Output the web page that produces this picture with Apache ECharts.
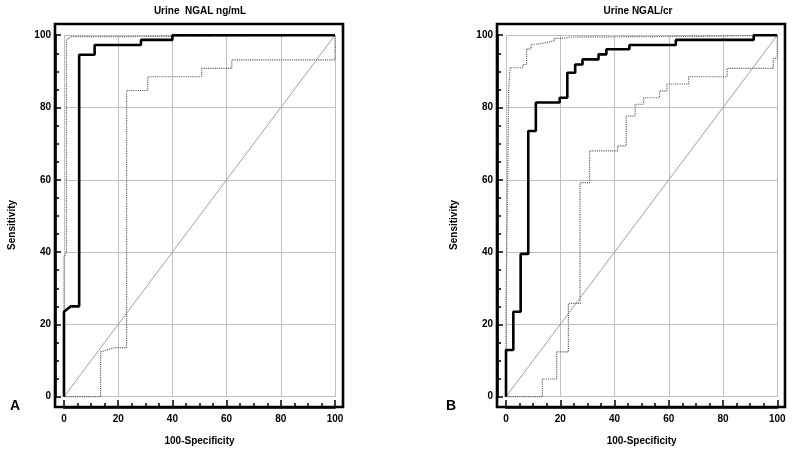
<!DOCTYPE html>
<html>
<head>
<meta charset="utf-8">
<script src="https://cdn.jsdelivr.net/npm/echarts@6/dist/echarts.min.js"></script>
<style>html,body{margin:0;padding:0;background:#fff}#c{width:800px;height:451px}</style>
</head>
<body>
<div id="c"></div>
<script>
// ---- data ----
const xTicks = [0, 20, 40, 60, 80, 100];
const titleA = 'Urine  NGAL ng/mL';
const titleB = 'Urine NGAL/cr';
const diagonal = [[0, 0], [100, 100]];

// Panel A (Urine NGAL ng/mL)
const rocA = [[0,0],[0,23.5],[2.5,25],[5.6,25],[5.6,94.6],[11.3,94.6],[11.3,97.3],[28.4,97.3],[28.4,98.7],[40,98.7],[40,100],[100,100]];
const upperA = [[0,0],[0,38.5],[0.9,40],[0.9,98.7],[2.6,99.6],[20.3,99.6],[20.3,100],[100,100]];
const lowerA = [[0,0],[13.5,0],[13.5,12.4],[18.8,13.6],[23.1,13.6],[23.1,84.7],[30.9,84.7],[30.9,88.5],[50.8,88.5],[50.8,90.8],[61.9,90.8],[61.9,93.2],[100,93.2],[100,100]];

// Panel B (Urine NGAL/cr)
const rocB = [[0,0],[0,12.9],[2.7,12.9],[2.7,23.5],[5.4,23.5],[5.4,39.5],[8.2,39.5],[8.2,73.5],[11,73.5],[11,81.4],[19.8,81.4],[19.8,82.7],[22.6,82.7],[22.6,89.6],[25.5,89.6],[25.5,91.9],[28.2,91.9],[28.2,93.3],[34.1,93.3],[34.1,94.7],[37,94.7],[37,96.1],[45.5,96.1],[45.5,97.3],[62.6,97.3],[62.6,98.7],[91.3,98.7],[91.3,100],[100,100]];
const upperB = [[0,0],[0,25.6],[0.5,25.6],[0.5,54.4],[1,54.4],[1,84.8],[1.5,84.8],[1.5,91],[6.2,91],[6.2,91.9],[7.6,91.9],[7.6,96.2],[9.2,96.2],[9.2,97.5],[11.1,97.5],[11.1,98],[15.4,98],[15.4,98.5],[17.8,98.5],[17.8,99.1],[20.9,99.1],[20.9,99.5],[24,99.5],[24,99.7],[72.5,99.7],[72.5,100],[100,100]];
const lowerB = [[0,0],[13.4,0],[13.4,4.9],[18.7,4.9],[18.7,12.4],[23,12.4],[23,25.8],[27.3,25.8],[27.3,59.2],[30.8,59.2],[30.8,68],[41.1,68],[41.1,69.4],[44.3,69.4],[44.3,77.6],[47.6,77.6],[47.6,80.9],[50.7,80.9],[50.7,82.7],[56.6,82.7],[56.6,84.6],[59.3,84.6],[59.3,86.5],[67.3,86.5],[67.3,88.5],[81.5,88.5],[81.5,90.8],[98.5,90.8],[98.5,93.6],[100,93.6],[100,100]];

// ---- chart ----
const FONT = 'Liberation Sans, Arial, sans-serif';
const chart = echarts.init(document.getElementById('c'), null, {renderer: 'canvas'});

function xAx(gi) {
  return {
    type: 'value', gridIndex: gi, min: 0, max: 100, interval: 20, offset: 10.3,
    position: 'bottom',
    name: '100-Specificity', nameLocation: 'middle', nameGap: 29,
    nameTextStyle: {fontFamily: FONT, fontWeight: 'bold', fontSize: 10, color: '#000'},
    axisLine: {show: true, onZero: false, lineStyle: {color: '#000', width: 2.6}},
    axisTick: {show: true, inside: true, length: 7, lineStyle: {color: '#000', width: 1.5}},
    minorTick: {show: true, splitNumber: 4, length: 4, lineStyle: {color: '#000', width: 1.5}},
    axisLabel: {fontFamily: FONT, fontWeight: 'bold', fontSize: 10, color: '#000', margin: 7},
    splitLine: {show: true, lineStyle: {color: '#c0c0c0', width: 1}}
  };
}
function yAx(gi) {
  return {
    type: 'value', gridIndex: gi, min: 0, max: 100, interval: 20, offset: 9,
    position: 'left',
    name: 'Sensitivity', nameLocation: 'middle', nameGap: 38, nameRotate: 90,
    nameTextStyle: {fontFamily: FONT, fontWeight: 'bold', fontSize: 10, color: '#000', padding: [0, 18, 0, 0]},
    axisLine: {show: true, onZero: false, lineStyle: {color: '#000', width: 2.6}},
    axisTick: {show: true, inside: true, length: 6, lineStyle: {color: '#000', width: 1.5}},
    minorTick: {show: true, splitNumber: 4, length: 4, lineStyle: {color: '#000', width: 1.5}},
    axisLabel: {fontFamily: FONT, fontWeight: 'bold', fontSize: 10, color: '#000', margin: 4},
    splitLine: {show: true, lineStyle: {color: '#c0c0c0', width: 1}}
  };
}
function hidden(gi) {
  return {type: 'value', gridIndex: gi, show: false, min: 0, max: 1};
}
function line(data, xi, style, z) {
  return {type: 'line', xAxisIndex: xi, yAxisIndex: xi, data: data, showSymbol: false, symbol: 'none',
    lineStyle: style, z: z, silent: true, animation: false, clip: false};
}
const mainStyle = {color: '#000', width: 2.6};
const ciStyle = {color: '#666666', width: 1.2, type: [1.2, 1]};
const diagStyle = {color: '#a0a0a0', width: 1};

chart.setOption({
  backgroundColor: '#fff',
  animation: false,
  title: [
    {text: titleA, left: 200, top: 6, textAlign: 'center', padding: 0,
      textStyle: {fontFamily: FONT, fontWeight: 'bold', fontSize: 10, color: '#000'}},
    {text: titleB, left: 638, top: 6, textAlign: 'center', padding: 0,
      textStyle: {fontFamily: FONT, fontWeight: 'bold', fontSize: 10, color: '#000'}},
    {text: 'A', left: 10, top: 399, padding: 0,
      textStyle: {fontFamily: FONT, fontWeight: 'bold', fontSize: 14, color: '#000'}},
    {text: 'B', left: 446, top: 399, padding: 0,
      textStyle: {fontFamily: FONT, fontWeight: 'bold', fontSize: 14, color: '#000'}}
  ],
  grid: [
    {left: 64, right: 465, top: 35.2, bottom: 54.3},
    {left: 506, right: 22.7, top: 35.2, bottom: 54.3},
    {left: 55, right: 457, top: 24, bottom: 44, show: true, borderColor: '#000', borderWidth: 2.6, backgroundColor: 'transparent', z: 10},
    {left: 497, right: 15, top: 24, bottom: 44, show: true, borderColor: '#000', borderWidth: 2.6, backgroundColor: 'transparent', z: 10}
  ],
  xAxis: [xAx(0), xAx(1), hidden(2), hidden(3)],
  yAxis: [yAx(0), yAx(1), hidden(2), hidden(3)],
  series: [
    line(diagonal, 0, diagStyle, 2),
    line(lowerA, 0, ciStyle, 3),
    line(upperA, 0, ciStyle, 3),
    line(rocA, 0, mainStyle, 5),
    line(diagonal, 1, diagStyle, 2),
    line(lowerB, 1, ciStyle, 3),
    line(upperB, 1, ciStyle, 3),
    line(rocB, 1, mainStyle, 5)
  ]
});
</script>
</body>
</html>
